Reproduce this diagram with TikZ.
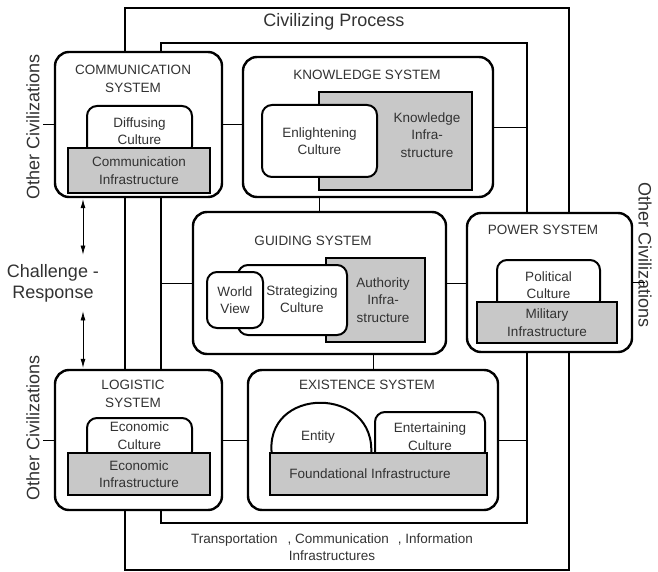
\documentclass[tikz,border=0pt]{standalone}
\usepackage{fontspec}
\setmainfont{Liberation Sans}
\usepackage{tikz}
\usetikzlibrary{
  arrows.meta,
}
\newcommand{\sysfont}{\fontsize{13.5}{17.5}\selectfont}
\newcommand{\bigfont}{\fontsize{18}{21}\selectfont}
\definecolor{ink}{RGB}{50, 50, 50}
\definecolor{infragray}{RGB}{200, 200, 200}
\tikzstyle{civframe} = [draw, rectangle, line width=2pt, inner sep=0pt]
\tikzstyle{system} = [draw, rectangle, rounded corners=14pt, line width=2.4pt, fill=white, inner sep=0pt]
\tikzstyle{culture} = [draw, rectangle, rounded corners=10pt, line width=2pt, fill=white, align=center, font=\sysfont, text=ink, inner sep=0pt]
\tikzstyle{infra} = [draw, rectangle, line width=2.4pt, fill=infragray, align=center, font=\sysfont, text=ink, inner sep=0pt]
\tikzstyle{systitle} = [font=\sysfont, text=ink, align=center]
\tikzstyle{bigtext} = [font=\bigfont, text=ink, align=center]
\tikzstyle{link} = [line width=0.8pt]
\tikzstyle{resp} = [
  {Latex[length=9pt,width=5pt]}-{Latex[length=9pt,width=5pt]},
  line width=0.7pt,
]

\begin{document}
\begin{tikzpicture}[x=1pt, y=-1pt]
        \useasboundingbox (0,0) rectangle (658,572);

        % frames
        \node[civframe, minimum width=444pt, minimum height=562pt] (civ) at (347,289) {};
        \node[civframe, minimum width=366pt, minimum height=480pt] (inner) at (344,283) {};
        \node[bigtext] (civtitle) at (334,22) {Civilizing Process};

        % systems
        \node[system, minimum width=167pt, minimum height=145pt] (comm) at (138.5,124.5) {};
        \node[system, minimum width=250pt, minimum height=140pt] (know) at (368,127) {};
        \node[system, minimum width=253pt, minimum height=142pt] (guide) at (319.5,283) {};
        \node[system, minimum width=165pt, minimum height=139pt] (power) at (549.5,282.5) {};
        \node[system, minimum width=167pt, minimum height=140pt] (logi) at (138.5,440) {};
        \node[system, minimum width=250pt, minimum height=140pt] (exist) at (373,440) {};

        \node[systitle] (commtitle) at (133,79) {COMMUNICATION\\SYSTEM};
        \node[systitle] (knowtitle) at (367,75) {KNOWLEDGE SYSTEM};
        \node[systitle] (guidetitle) at (313,241) {GUIDING SYSTEM};
        \node[systitle] (powertitle) at (543,230) {POWER SYSTEM};
        \node[systitle] (logititle) at (133,394) {LOGISTIC\\SYSTEM};
        \node[systitle] (existtitle) at (367,385) {EXISTENCE SYSTEM};

        % outside labels
        \node[bigtext, rotate=90] (octop) at (33,127) {Other Civilizations};
        \node[bigtext, rotate=90] (ocbot) at (33,428) {Other Civilizations};
        \node[bigtext, rotate=-90] (ocright) at (645,255) {Other Civilizations};
        \node[bigtext] (chal) at (53,283) {Challenge -\\Response};
        \node[systitle] (trans) at (332,547) {Transportation\hspace{10pt}, Communication\hspace{9pt}, Information\\Infrastructures};
        \coordinate (crx) at (83,0);

        % links
        \draw[link] (comm.west) -- (comm.west -| octop.south);
        \draw[link] (logi.west) -- (logi.west -| ocbot.south);
        \draw[link] (power.east) -- (power.east -| ocright);
        \draw[link] (comm.east) -- (comm.east -| know.west);
        \draw[link] (know.east) -- (know.east -| inner.east);
        \draw[link] (guide.north) -- (guide.north |- know.south);
        \draw[link] (guide.west) -- (guide.west -| inner.west);
        \draw[link] (guide.east) -- (guide.east -| power.west);
        \draw[link] (exist.north) -- (exist.north |- guide.south);
        \draw[link] (logi.east) -- (logi.east -| exist.west);
        \draw[link] (exist.east) -- (exist.east -| inner.east);
        \draw[resp, shorten <=1pt, shorten >=6pt] (comm.south -| crx) -- (chal.north -| crx);
        \draw[resp, shorten <=6pt, shorten >=1pt] (chal.south -| crx) -- (logi.north -| crx);

        % communication
        \node[culture, minimum width=105pt, minimum height=50pt] (diffuse) at (139.5,131) {Diffusing\\Culture};
        \node[infra, minimum width=142pt, minimum height=45pt] (comminfra) at (139,170.5) {Communication\\Infrastructure};

        % knowledge
        \node[infra, minimum width=153pt, minimum height=98pt] (knowinfra) at (395.5,141) {};
        \node[systitle] (knowtext) at (427,135) {Knowledge\\Infra-\\structure};
        \node[culture, minimum width=115pt, minimum height=72pt] (enlight) at (319.5,141) {Enlightening\\Culture};

        % guiding
        \node[infra, minimum width=99pt, minimum height=84pt] (authinfra) at (375.5,300) {};
        \node[systitle] (authtext) at (383,300) {Authority\\Infra-\\structure};
        \node[culture, minimum width=109pt, minimum height=70pt] (strategy) at (292.5,300) {};
        \node[systitle] (strattext) at (302,299) {Strategizing\\Culture};
        \node[culture, minimum width=56pt, minimum height=56pt] (worldview) at (235,300) {World\\View};

        % power
        \node[culture, minimum width=103pt, minimum height=50pt] (polcult) at (548.5,285) {Political\\Culture};
        \node[infra, minimum width=140pt, minimum height=41pt] (milinfra) at (547,322.5) {Military\\Infrastructure};

        % logistic
        \node[culture, minimum width=105pt, minimum height=43pt] (econcult) at (139.5,439.5) {};
        \node[systitle, inner sep=0pt] (econtext) at (139.5,435.5) {Economic\\Culture};
        \node[infra, minimum width=142pt, minimum height=42pt] (econinfra) at (139,474) {Economic\\Infrastructure};

        % existence
        \draw[line width=2pt, fill=white] (272,456) .. controls (262,385) and (378,385) .. (371,456) -- cycle;
        \node[systitle] (entity) at (318,437) {Entity};
        \node[culture, minimum width=110pt, minimum height=49pt] (entertain) at (430,436.5) {Entertaining\\Culture};
        \node[infra, minimum width=217pt, minimum height=42pt] (foundinfra) at (378.5,474) {};
        \node[systitle] (foundtext) at (370,474) {Foundational Infrastructure};
\end{tikzpicture}
\end{document}
